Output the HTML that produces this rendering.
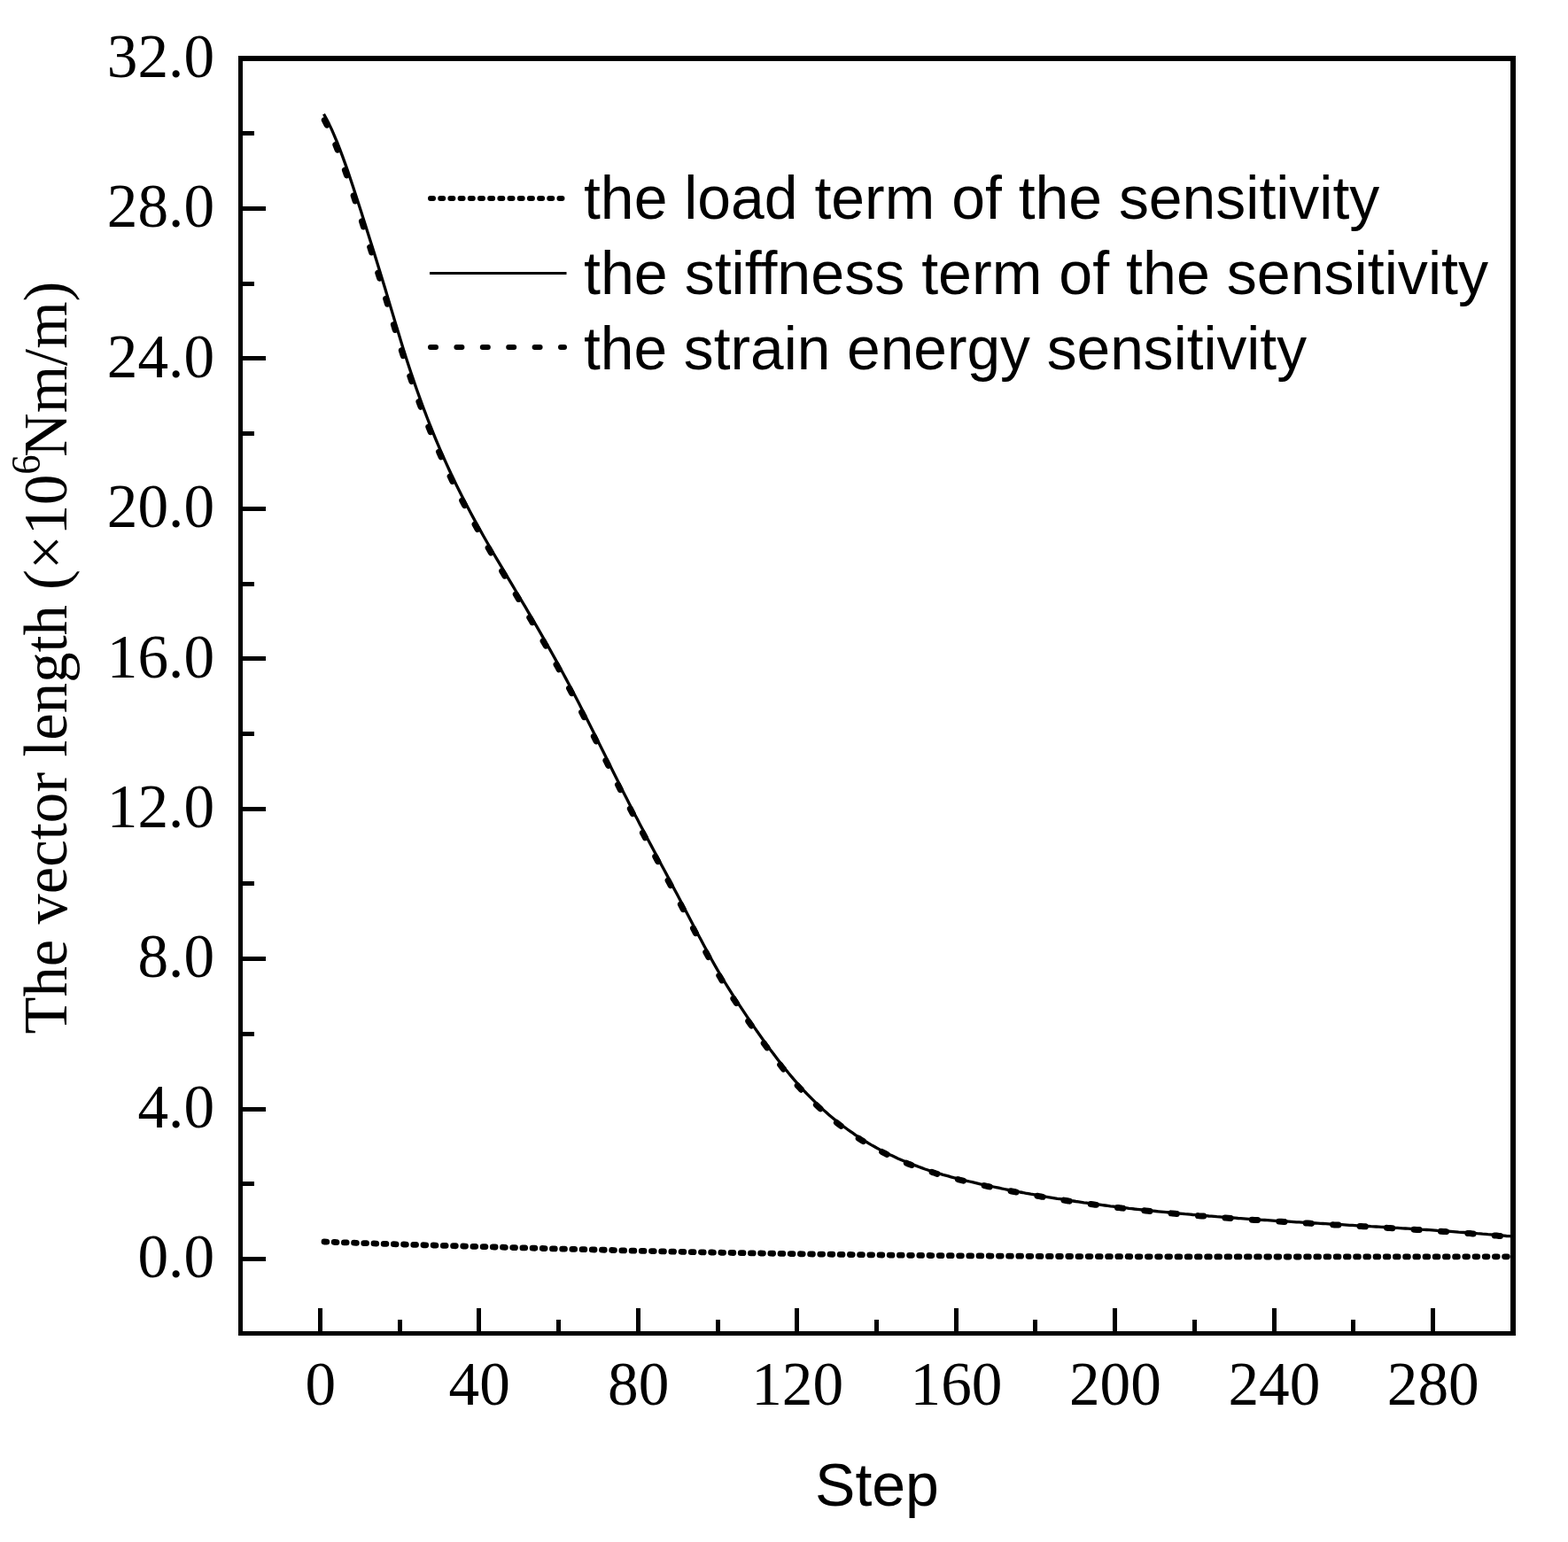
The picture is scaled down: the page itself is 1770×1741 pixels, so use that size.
<!DOCTYPE html>
<html lang="en"><head><meta charset="utf-8"><title>Vector length vs step</title>
<style>
html,body{margin:0;padding:0;background:#fff;}
body{width:1770px;height:1741px;overflow:hidden;}
svg{display:block;}
.ser{font-family:"Liberation Serif","DejaVu Serif",serif;font-size:68.7px;fill:#000;}
.san{font-family:"Liberation Sans","DejaVu Sans",sans-serif;font-size:68.0px;fill:#000;}
</style></head><body>
<svg width="1770" height="1741" viewBox="0 0 1770 1741" role="img" aria-label="Vector length versus optimisation step">
<rect x="0" y="0" width="1770" height="1741" fill="#fff"/>
<g fill="#000" shape-rendering="crispEdges">
<rect x="269.0" y="63.0" width="5.0" height="1445.0"/>
<rect x="1705.0" y="63.0" width="6.0" height="1445.0"/>
<rect x="269.0" y="63.0" width="1442.0" height="5.8"/>
<rect x="269.0" y="1503.0" width="1442.0" height="5.0"/>
<rect x="273.0" y="1419" width="27" height="5"/>
<rect x="273.0" y="1334" width="14" height="5"/>
<rect x="273.0" y="1250" width="27" height="5"/>
<rect x="273.0" y="1165" width="14" height="5"/>
<rect x="273.0" y="1080" width="27" height="5"/>
<rect x="273.0" y="995" width="14" height="5"/>
<rect x="273.0" y="911" width="27" height="5"/>
<rect x="273.0" y="826" width="14" height="5"/>
<rect x="273.0" y="741" width="27" height="5"/>
<rect x="273.0" y="657" width="14" height="5"/>
<rect x="273.0" y="572" width="27" height="5"/>
<rect x="273.0" y="487" width="14" height="5"/>
<rect x="273.0" y="402" width="27" height="5"/>
<rect x="273.0" y="318" width="14" height="5"/>
<rect x="273.0" y="233" width="27" height="5"/>
<rect x="273.0" y="148" width="14" height="5"/>
<rect x="359" y="1477.0" width="5" height="27"/>
<rect x="449" y="1490.0" width="5" height="14"/>
<rect x="538" y="1477.0" width="5" height="27"/>
<rect x="628" y="1490.0" width="5" height="14"/>
<rect x="718" y="1477.0" width="5" height="27"/>
<rect x="808" y="1490.0" width="5" height="14"/>
<rect x="897" y="1477.0" width="5" height="27"/>
<rect x="987" y="1490.0" width="5" height="14"/>
<rect x="1077" y="1477.0" width="5" height="27"/>
<rect x="1166" y="1490.0" width="5" height="14"/>
<rect x="1256" y="1477.0" width="5" height="27"/>
<rect x="1346" y="1490.0" width="5" height="14"/>
<rect x="1436" y="1477.0" width="5" height="27"/>
<rect x="1525" y="1490.0" width="5" height="14"/>
<rect x="1615" y="1477.0" width="5" height="27"/>
</g>
<g class="ser" text-anchor="end">
<text transform="translate(242,1442.2) scale(1.008,1.03)">0.0</text>
<text transform="translate(242,1272.8) scale(1.008,1.03)">4.0</text>
<text transform="translate(242,1103.3) scale(1.008,1.03)">8.0</text>
<text transform="translate(242,933.9) scale(1.008,1.03)">12.0</text>
<text transform="translate(242,764.5) scale(1.008,1.03)">16.0</text>
<text transform="translate(242,595.1) scale(1.008,1.03)">20.0</text>
<text transform="translate(242,425.6) scale(1.008,1.03)">24.0</text>
<text transform="translate(242,256.2) scale(1.008,1.03)">28.0</text>
<text transform="translate(242,86.8) scale(1.008,1.03)">32.0</text>
</g>
<g class="ser" text-anchor="middle">
<text transform="translate(361.8,1586) scale(1.008,1.03)">0</text>
<text transform="translate(541.2,1586) scale(1.008,1.03)">40</text>
<text transform="translate(720.7,1586) scale(1.008,1.03)">80</text>
<text transform="translate(900.1,1586) scale(1.008,1.03)">120</text>
<text transform="translate(1079.5,1586) scale(1.008,1.03)">160</text>
<text transform="translate(1258.9,1586) scale(1.008,1.03)">200</text>
<text transform="translate(1438.4,1586) scale(1.008,1.03)">240</text>
<text transform="translate(1617.8,1586) scale(1.008,1.03)">280</text>
</g>
<text class="san" text-anchor="middle" x="990" y="1700">Step</text>
<text class="ser" text-anchor="middle" transform="translate(75.3,742.5) rotate(-90) scale(1,1.03)">The vector length (×10<tspan dy="-29.8" font-size="44.5">6</tspan><tspan dy="29.8" dx="-2.5">Nm/m)</tspan></text>
<g fill="none" stroke="#000" stroke-linejoin="round">
<path d="M366.0,1402.0 L372.0,1402.2 L378.0,1402.5 L384.0,1402.7 L390.0,1402.9 L396.0,1403.1 L402.0,1403.3 L408.0,1403.5 L414.0,1403.7 L420.0,1403.9 L426.0,1404.1 L432.0,1404.3 L438.0,1404.5 L444.0,1404.7 L450.0,1404.9 L456.0,1405.0 L462.0,1405.2 L468.0,1405.4 L474.0,1405.6 L480.0,1405.8 L486.0,1405.9 L492.0,1406.1 L498.0,1406.3 L504.0,1406.5 L510.0,1406.6 L516.0,1406.8 L522.0,1407.0 L528.0,1407.1 L534.0,1407.3 L540.0,1407.5 L546.0,1407.6 L552.0,1407.8 L558.0,1408.0 L564.0,1408.1 L570.0,1408.3 L576.0,1408.5 L582.0,1408.6 L588.0,1408.8 L594.0,1409.0 L600.0,1409.1 L606.0,1409.3 L612.0,1409.5 L618.0,1409.6 L624.0,1409.8 L630.0,1409.9 L636.0,1410.1 L642.0,1410.3 L648.0,1410.4 L654.0,1410.6 L660.0,1410.7 L666.0,1410.9 L672.0,1411.0 L678.0,1411.2 L684.0,1411.3 L690.0,1411.5 L696.0,1411.6 L702.0,1411.8 L708.0,1411.9 L714.0,1412.1 L720.0,1412.2 L726.0,1412.4 L732.0,1412.5 L738.0,1412.6 L744.0,1412.8 L750.0,1412.9 L756.0,1413.0 L762.0,1413.2 L768.0,1413.3 L774.0,1413.4 L780.0,1413.6 L786.0,1413.7 L792.0,1413.8 L798.0,1413.9 L804.0,1414.0 L810.0,1414.2 L816.0,1414.3 L822.0,1414.4 L828.0,1414.5 L834.0,1414.6 L840.0,1414.7 L846.0,1414.8 L852.0,1414.9 L858.0,1415.0 L864.0,1415.1 L870.0,1415.2 L876.0,1415.3 L882.0,1415.4 L888.0,1415.5 L894.0,1415.6 L900.0,1415.7 L906.0,1415.8 L912.0,1415.9 L918.0,1416.0 L924.0,1416.1 L930.0,1416.1 L936.0,1416.2 L942.0,1416.3 L948.0,1416.4 L954.0,1416.5 L960.0,1416.5 L966.0,1416.6 L972.0,1416.7 L978.0,1416.8 L984.0,1416.8 L990.0,1416.9 L996.0,1417.0 L1002.0,1417.0 L1008.0,1417.1 L1014.0,1417.2 L1020.0,1417.2 L1026.0,1417.3 L1032.0,1417.3 L1038.0,1417.4 L1044.0,1417.4 L1050.0,1417.5 L1056.0,1417.6 L1062.0,1417.6 L1068.0,1417.7 L1074.0,1417.7 L1080.0,1417.8 L1086.0,1417.8 L1092.0,1417.8 L1098.0,1417.9 L1104.0,1417.9 L1110.0,1418.0 L1116.0,1418.0 L1122.0,1418.1 L1128.0,1418.1 L1134.0,1418.1 L1140.0,1418.2 L1146.0,1418.2 L1152.0,1418.2 L1158.0,1418.3 L1164.0,1418.3 L1170.0,1418.3 L1176.0,1418.4 L1182.0,1418.4 L1188.0,1418.4 L1194.0,1418.5 L1200.0,1418.5 L1206.0,1418.5 L1212.0,1418.5 L1218.0,1418.6 L1224.0,1418.6 L1230.0,1418.6 L1236.0,1418.6 L1242.0,1418.7 L1248.0,1418.7 L1254.0,1418.7 L1260.0,1418.7 L1266.0,1418.7 L1272.0,1418.7 L1278.0,1418.8 L1284.0,1418.8 L1290.0,1418.8 L1296.0,1418.8 L1302.0,1418.8 L1308.0,1418.8 L1314.0,1418.8 L1320.0,1418.8 L1326.0,1418.9 L1332.0,1418.9 L1338.0,1418.9 L1344.0,1418.9 L1350.0,1418.9 L1356.0,1418.9 L1362.0,1418.9 L1368.0,1418.9 L1374.0,1418.9 L1380.0,1418.9 L1386.0,1418.9 L1392.0,1418.9 L1398.0,1418.9 L1404.0,1418.9 L1410.0,1418.9 L1416.0,1418.9 L1422.0,1418.9 L1428.0,1419.0 L1434.0,1419.0 L1440.0,1419.0 L1446.0,1419.0 L1452.0,1419.0 L1458.0,1419.0 L1464.0,1419.0 L1470.0,1419.0 L1476.0,1418.9 L1482.0,1418.9 L1488.0,1418.9 L1494.0,1418.9 L1500.0,1418.9 L1506.0,1418.9 L1512.0,1418.9 L1518.0,1418.9 L1524.0,1418.9 L1530.0,1418.9 L1536.0,1418.9 L1542.0,1418.9 L1548.0,1418.9 L1554.0,1418.9 L1560.0,1418.9 L1566.0,1418.9 L1572.0,1418.9 L1578.0,1418.9 L1584.0,1418.9 L1590.0,1418.9 L1596.0,1418.9 L1602.0,1418.9 L1608.0,1418.9 L1614.0,1418.9 L1620.0,1418.9 L1626.0,1418.9 L1632.0,1418.9 L1638.0,1418.9 L1644.0,1418.9 L1650.0,1418.8 L1656.0,1418.8 L1662.0,1418.8 L1668.0,1418.8 L1674.0,1418.8 L1680.0,1418.8 L1686.0,1418.8 L1692.0,1418.8 L1698.0,1418.8 L1704.0,1418.8 L1705.0,1418.8" stroke-width="6.8" stroke-linecap="round" stroke-dasharray="2.8 8.4"/>
<path d="M366.3,135.6 L369.3,141.5 L372.3,148.0 L375.3,154.8 L378.3,162.1 L381.3,169.7 L384.3,177.7 L387.3,186.0 L390.3,194.5 L393.3,203.3 L396.3,212.3 L399.3,221.4 L402.3,230.7 L405.3,240.0 L408.3,249.4 L411.3,258.8 L414.3,268.3 L417.3,277.8 L420.3,287.4 L423.3,297.0 L426.3,306.7 L429.3,316.4 L432.3,326.3 L435.3,336.2 L438.3,346.2 L441.3,356.2 L444.3,366.2 L447.3,376.1 L450.3,385.9 L453.3,395.6 L456.3,405.0 L459.3,414.3 L462.3,423.3 L465.3,432.1 L468.3,440.7 L471.3,449.1 L474.3,457.3 L477.3,465.3 L480.3,473.1 L483.3,480.7 L486.3,488.2 L489.3,495.5 L492.3,502.6 L495.3,509.6 L498.3,516.4 L501.3,523.1 L504.3,529.7 L507.3,536.1 L510.3,542.4 L513.3,548.5 L516.3,554.6 L519.3,560.5 L522.3,566.4 L525.3,572.1 L528.3,577.8 L531.3,583.4 L534.3,588.9 L537.3,594.3 L540.3,599.7 L543.3,605.0 L546.3,610.2 L549.3,615.4 L552.3,620.6 L555.3,625.7 L558.3,630.8 L561.3,635.8 L564.3,640.9 L567.3,645.9 L570.3,650.9 L573.3,656.0 L576.3,661.0 L579.3,666.0 L582.3,671.1 L585.3,676.1 L588.3,681.2 L591.3,686.3 L594.3,691.4 L597.3,696.5 L600.3,701.6 L603.3,706.7 L606.3,711.9 L609.3,717.1 L612.3,722.3 L615.3,727.6 L618.3,732.9 L621.3,738.2 L624.3,743.5 L627.3,748.9 L630.3,754.4 L633.3,759.9 L636.3,765.4 L639.3,771.0 L642.3,776.6 L645.3,782.3 L648.3,788.0 L651.3,793.8 L654.3,799.6 L657.3,805.5 L660.3,811.4 L663.3,817.4 L666.3,823.3 L669.3,829.3 L672.3,835.4 L675.3,841.4 L678.3,847.4 L681.3,853.5 L684.3,859.5 L687.3,865.6 L690.3,871.6 L693.3,877.6 L696.3,883.6 L699.3,889.6 L702.3,895.5 L705.3,901.4 L708.3,907.3 L711.3,913.1 L714.3,918.9 L717.3,924.7 L720.3,930.4 L723.3,936.2 L726.3,941.9 L729.3,947.5 L732.3,953.2 L735.3,958.8 L738.3,964.5 L741.3,970.1 L744.3,975.7 L747.3,981.3 L750.3,987.0 L753.3,992.6 L756.3,998.2 L759.3,1003.9 L762.3,1009.6 L765.3,1015.2 L768.3,1020.9 L771.3,1026.7 L774.3,1032.4 L777.3,1038.2 L780.3,1043.9 L783.3,1049.6 L786.3,1055.4 L789.3,1061.0 L792.3,1066.7 L795.3,1072.3 L798.3,1077.8 L801.3,1083.2 L804.3,1088.6 L807.3,1093.9 L810.3,1099.0 L813.3,1104.1 L816.3,1109.1 L819.3,1113.9 L822.3,1118.7 L825.3,1123.5 L828.3,1128.1 L831.3,1132.7 L834.3,1137.3 L837.3,1141.8 L840.3,1146.3 L843.3,1150.8 L846.3,1155.2 L849.3,1159.5 L852.3,1163.9 L855.3,1168.1 L858.3,1172.4 L861.3,1176.6 L864.3,1180.7 L867.3,1184.8 L870.3,1188.8 L873.3,1192.8 L876.3,1196.7 L879.3,1200.5 L882.3,1204.3 L885.3,1208.1 L888.3,1211.7 L891.3,1215.3 L894.3,1218.9 L897.3,1222.3 L900.3,1225.7 L903.3,1229.0 L906.3,1232.3 L909.3,1235.4 L912.3,1238.5 L915.3,1241.6 L918.3,1244.5 L921.3,1247.4 L924.3,1250.2 L927.3,1253.0 L930.3,1255.7 L933.3,1258.3 L936.3,1260.9 L939.3,1263.4 L942.3,1265.8 L945.3,1268.2 L948.3,1270.5 L951.3,1272.8 L954.3,1275.0 L957.3,1277.2 L960.3,1279.3 L963.3,1281.3 L966.3,1283.3 L969.3,1285.3 L972.3,1287.2 L975.3,1289.1 L978.3,1290.9 L981.3,1292.7 L984.3,1294.4 L987.3,1296.1 L990.3,1297.7 L993.3,1299.3 L996.3,1300.9 L999.3,1302.4 L1002.3,1303.9 L1005.3,1305.3 L1008.3,1306.7 L1011.3,1308.1 L1014.3,1309.4 L1017.3,1310.7 L1020.3,1312.0 L1023.3,1313.2 L1026.3,1314.4 L1029.3,1315.5 L1032.3,1316.7 L1035.3,1317.8 L1038.3,1318.9 L1041.3,1319.9 L1044.3,1320.9 L1047.3,1321.9 L1050.3,1322.9 L1053.3,1323.8 L1056.3,1324.8 L1059.3,1325.7 L1062.3,1326.5 L1065.3,1327.4 L1068.3,1328.2 L1071.3,1329.1 L1074.3,1329.9 L1077.3,1330.6 L1080.3,1331.4 L1083.3,1332.2 L1086.3,1332.9 L1089.3,1333.6 L1092.3,1334.3 L1095.3,1335.1 L1098.3,1335.7 L1101.3,1336.4 L1104.3,1337.1 L1107.3,1337.8 L1110.3,1338.4 L1113.3,1339.1 L1116.3,1339.7 L1119.3,1340.3 L1122.3,1341.0 L1125.3,1341.6 L1128.3,1342.2 L1131.3,1342.8 L1134.3,1343.4 L1137.3,1344.0 L1140.3,1344.6 L1143.3,1345.2 L1146.3,1345.8 L1149.3,1346.3 L1152.3,1346.9 L1155.3,1347.4 L1158.3,1348.0 L1161.3,1348.5 L1164.3,1349.1 L1167.3,1349.6 L1170.3,1350.1 L1173.3,1350.6 L1176.3,1351.2 L1179.3,1351.7 L1182.3,1352.2 L1185.3,1352.7 L1188.3,1353.1 L1191.3,1353.6 L1194.3,1354.1 L1197.3,1354.6 L1200.3,1355.0 L1203.3,1355.5 L1206.3,1356.0 L1209.3,1356.4 L1212.3,1356.9 L1215.3,1357.3 L1218.3,1357.7 L1221.3,1358.2 L1224.3,1358.6 L1227.3,1359.0 L1230.3,1359.4 L1233.3,1359.8 L1236.3,1360.2 L1239.3,1360.6 L1242.3,1361.0 L1245.3,1361.4 L1248.3,1361.8 L1251.3,1362.2 L1254.3,1362.5 L1257.3,1362.9 L1260.3,1363.3 L1263.3,1363.6 L1266.3,1364.0 L1269.3,1364.3 L1272.3,1364.7 L1275.3,1365.0 L1278.3,1365.4 L1281.3,1365.7 L1284.3,1366.0 L1287.3,1366.4 L1290.3,1366.7 L1293.3,1367.0 L1296.3,1367.3 L1299.3,1367.6 L1302.3,1368.0 L1305.3,1368.3 L1308.3,1368.6 L1311.3,1368.9 L1314.3,1369.1 L1317.3,1369.4 L1320.3,1369.7 L1323.3,1370.0 L1326.3,1370.3 L1329.3,1370.6 L1332.3,1370.8 L1335.3,1371.1 L1338.3,1371.4 L1341.3,1371.6 L1344.3,1371.9 L1347.3,1372.1 L1350.3,1372.4 L1353.3,1372.7 L1356.3,1372.9 L1359.3,1373.1 L1362.3,1373.4 L1365.3,1373.6 L1368.3,1373.9 L1371.3,1374.1 L1374.3,1374.3 L1377.3,1374.6 L1380.3,1374.8 L1383.3,1375.0 L1386.3,1375.2 L1389.3,1375.5 L1392.3,1375.7 L1395.3,1375.9 L1398.3,1376.1 L1401.3,1376.3 L1404.3,1376.5 L1407.3,1376.7 L1410.3,1376.9 L1413.3,1377.2 L1416.3,1377.4 L1419.3,1377.6 L1422.3,1377.8 L1425.3,1378.0 L1428.3,1378.1 L1431.3,1378.3 L1434.3,1378.5 L1437.3,1378.7 L1440.3,1378.9 L1443.3,1379.1 L1446.3,1379.3 L1449.3,1379.5 L1452.3,1379.7 L1455.3,1379.8 L1458.3,1380.0 L1461.3,1380.2 L1464.3,1380.4 L1467.3,1380.6 L1470.3,1380.8 L1473.3,1380.9 L1476.3,1381.1 L1479.3,1381.3 L1482.3,1381.5 L1485.3,1381.6 L1488.3,1381.8 L1491.3,1382.0 L1494.3,1382.2 L1497.3,1382.3 L1500.3,1382.5 L1503.3,1382.7 L1506.3,1382.9 L1509.3,1383.0 L1512.3,1383.2 L1515.3,1383.4 L1518.3,1383.5 L1521.3,1383.7 L1524.3,1383.9 L1527.3,1384.1 L1530.3,1384.2 L1533.3,1384.4 L1536.3,1384.6 L1539.3,1384.8 L1542.3,1384.9 L1545.3,1385.1 L1548.3,1385.3 L1551.3,1385.5 L1554.3,1385.6 L1557.3,1385.8 L1560.3,1386.0 L1563.3,1386.2 L1566.3,1386.4 L1569.3,1386.5 L1572.3,1386.7 L1575.3,1386.9 L1578.3,1387.1 L1581.3,1387.3 L1584.3,1387.5 L1587.3,1387.6 L1590.3,1387.8 L1593.3,1388.0 L1596.3,1388.2 L1599.3,1388.4 L1602.3,1388.6 L1605.3,1388.8 L1608.3,1389.0 L1611.3,1389.2 L1614.3,1389.4 L1617.3,1389.6 L1620.3,1389.8 L1623.3,1390.0 L1626.3,1390.2 L1629.3,1390.4 L1632.3,1390.6 L1635.3,1390.8 L1638.3,1391.1 L1641.3,1391.3 L1644.3,1391.5 L1647.3,1391.7 L1650.3,1391.9 L1653.3,1392.2 L1656.3,1392.4 L1659.3,1392.6 L1662.3,1392.9 L1665.3,1393.1 L1668.3,1393.3 L1671.3,1393.6 L1674.3,1393.8 L1677.3,1394.1 L1680.3,1394.3 L1683.3,1394.6 L1686.3,1394.8 L1689.3,1395.1 L1692.3,1395.4 L1695.3,1395.6 L1698.3,1395.9 L1701.3,1396.2 L1704.3,1396.5 L1705.0,1396.5" stroke-width="7" stroke-linecap="round" stroke-dasharray="6.2 24.3"/>
<path d="M365.5,128.8 L368.5,134.2 L371.5,140.1 L374.5,146.4 L377.5,153.3 L380.5,160.5 L383.5,168.1 L386.5,176.1 L389.5,184.4 L392.5,192.9 L395.5,201.7 L398.5,210.7 L401.5,219.9 L404.5,229.2 L407.5,238.5 L410.5,248.0 L413.5,257.4 L416.5,266.9 L419.5,276.5 L422.5,286.1 L425.5,295.7 L428.5,305.4 L431.5,315.2 L434.5,325.1 L437.5,335.1 L440.5,345.1 L443.5,355.1 L446.5,365.2 L449.5,375.1 L452.5,385.0 L455.5,394.7 L458.5,404.2 L461.5,413.5 L464.5,422.5 L467.5,431.4 L470.5,440.0 L473.5,448.4 L476.5,456.7 L479.5,464.7 L482.5,472.5 L485.5,480.2 L488.5,487.7 L491.5,495.0 L494.5,502.2 L497.5,509.2 L500.5,516.0 L503.5,522.7 L506.5,529.3 L509.5,535.7 L512.5,542.0 L515.5,548.2 L518.5,554.3 L521.5,560.2 L524.5,566.1 L527.5,571.8 L530.5,577.5 L533.5,583.1 L536.5,588.6 L539.5,594.1 L542.5,599.4 L545.5,604.7 L548.5,610.0 L551.5,615.2 L554.5,620.4 L557.5,625.5 L560.5,630.6 L563.5,635.7 L566.5,640.7 L569.5,645.8 L572.5,650.8 L575.5,655.9 L578.5,660.9 L581.5,666.0 L584.5,671.0 L587.5,676.1 L590.5,681.1 L593.5,686.2 L596.5,691.3 L599.5,696.4 L602.5,701.6 L605.5,706.7 L608.5,711.9 L611.5,717.1 L614.5,722.4 L617.5,727.6 L620.5,732.9 L623.5,738.3 L626.5,743.6 L629.5,749.1 L632.5,754.5 L635.5,760.0 L638.5,765.6 L641.5,771.2 L644.5,776.8 L647.5,782.5 L650.5,788.2 L653.5,794.0 L656.5,799.9 L659.5,805.8 L662.5,811.7 L665.5,817.7 L668.5,823.7 L671.5,829.7 L674.5,835.7 L677.5,841.7 L680.5,847.8 L683.5,853.8 L686.5,859.9 L689.5,865.9 L692.5,872.0 L695.5,878.0 L698.5,884.0 L701.5,890.0 L704.5,895.9 L707.5,901.8 L710.5,907.7 L713.5,913.6 L716.5,919.4 L719.5,925.1 L722.5,930.9 L725.5,936.6 L728.5,942.3 L731.5,948.0 L734.5,953.6 L737.5,959.3 L740.5,964.9 L743.5,970.6 L746.5,976.2 L749.5,981.8 L752.5,987.4 L755.5,993.1 L758.5,998.7 L761.5,1004.4 L764.5,1010.1 L767.5,1015.8 L770.5,1021.5 L773.5,1027.2 L776.5,1033.0 L779.5,1038.7 L782.5,1044.5 L785.5,1050.2 L788.5,1055.9 L791.5,1061.6 L794.5,1067.2 L797.5,1072.8 L800.5,1078.3 L803.5,1083.8 L806.5,1089.1 L809.5,1094.4 L812.5,1099.5 L815.5,1104.6 L818.5,1109.5 L821.5,1114.4 L824.5,1119.2 L827.5,1123.9 L830.5,1128.5 L833.5,1133.1 L836.5,1137.7 L839.5,1142.2 L842.5,1146.7 L845.5,1151.2 L848.5,1155.6 L851.5,1159.9 L854.5,1164.2 L857.5,1168.5 L860.5,1172.7 L863.5,1176.9 L866.5,1181.0 L869.5,1185.1 L872.5,1189.1 L875.5,1193.1 L878.5,1197.0 L881.5,1200.8 L884.5,1204.6 L887.5,1208.3 L890.5,1212.0 L893.5,1215.6 L896.5,1219.1 L899.5,1222.5 L902.5,1225.9 L905.5,1229.2 L908.5,1232.5 L911.5,1235.6 L914.5,1238.7 L917.5,1241.7 L920.5,1244.7 L923.5,1247.5 L926.5,1250.3 L929.5,1253.1 L932.5,1255.8 L935.5,1258.4 L938.5,1260.9 L941.5,1263.4 L944.5,1265.8 L947.5,1268.2 L950.5,1270.5 L953.5,1272.8 L956.5,1275.0 L959.5,1277.1 L962.5,1279.2 L965.5,1281.3 L968.5,1283.3 L971.5,1285.2 L974.5,1287.1 L977.5,1289.0 L980.5,1290.8 L983.5,1292.6 L986.5,1294.3 L989.5,1296.0 L992.5,1297.6 L995.5,1299.2 L998.5,1300.7 L1001.5,1302.2 L1004.5,1303.7 L1007.5,1305.1 L1010.5,1306.5 L1013.5,1307.9 L1016.5,1309.2 L1019.5,1310.5 L1022.5,1311.8 L1025.5,1313.0 L1028.5,1314.2 L1031.5,1315.3 L1034.5,1316.4 L1037.5,1317.5 L1040.5,1318.6 L1043.5,1319.7 L1046.5,1320.7 L1049.5,1321.7 L1052.5,1322.6 L1055.5,1323.6 L1058.5,1324.5 L1061.5,1325.4 L1064.5,1326.3 L1067.5,1327.1 L1070.5,1327.9 L1073.5,1328.8 L1076.5,1329.6 L1079.5,1330.3 L1082.5,1331.1 L1085.5,1331.9 L1088.5,1332.6 L1091.5,1333.3 L1094.5,1334.0 L1097.5,1334.7 L1100.5,1335.4 L1103.5,1336.1 L1106.5,1336.8 L1109.5,1337.4 L1112.5,1338.1 L1115.5,1338.7 L1118.5,1339.4 L1121.5,1340.0 L1124.5,1340.6 L1127.5,1341.2 L1130.5,1341.9 L1133.5,1342.5 L1136.5,1343.1 L1139.5,1343.7 L1142.5,1344.2 L1145.5,1344.8 L1148.5,1345.4 L1151.5,1346.0 L1154.5,1346.5 L1157.5,1347.1 L1160.5,1347.6 L1163.5,1348.2 L1166.5,1348.7 L1169.5,1349.2 L1172.5,1349.8 L1175.5,1350.3 L1178.5,1350.8 L1181.5,1351.3 L1184.5,1351.8 L1187.5,1352.3 L1190.5,1352.8 L1193.5,1353.3 L1196.5,1353.7 L1199.5,1354.2 L1202.5,1354.7 L1205.5,1355.1 L1208.5,1355.6 L1211.5,1356.0 L1214.5,1356.5 L1217.5,1356.9 L1220.5,1357.3 L1223.5,1357.8 L1226.5,1358.2 L1229.5,1358.6 L1232.5,1359.0 L1235.5,1359.4 L1238.5,1359.8 L1241.5,1360.2 L1244.5,1360.6 L1247.5,1361.0 L1250.5,1361.4 L1253.5,1361.8 L1256.5,1362.1 L1259.5,1362.5 L1262.5,1362.9 L1265.5,1363.2 L1268.5,1363.6 L1271.5,1363.9 L1274.5,1364.3 L1277.5,1364.6 L1280.5,1365.0 L1283.5,1365.3 L1286.5,1365.6 L1289.5,1366.0 L1292.5,1366.3 L1295.5,1366.6 L1298.5,1366.9 L1301.5,1367.2 L1304.5,1367.5 L1307.5,1367.8 L1310.5,1368.1 L1313.5,1368.4 L1316.5,1368.7 L1319.5,1369.0 L1322.5,1369.3 L1325.5,1369.6 L1328.5,1369.9 L1331.5,1370.1 L1334.5,1370.4 L1337.5,1370.7 L1340.5,1370.9 L1343.5,1371.2 L1346.5,1371.5 L1349.5,1371.7 L1352.5,1372.0 L1355.5,1372.2 L1358.5,1372.5 L1361.5,1372.7 L1364.5,1373.0 L1367.5,1373.2 L1370.5,1373.4 L1373.5,1373.7 L1376.5,1373.9 L1379.5,1374.1 L1382.5,1374.4 L1385.5,1374.6 L1388.5,1374.8 L1391.5,1375.0 L1394.5,1375.2 L1397.5,1375.5 L1400.5,1375.7 L1403.5,1375.9 L1406.5,1376.1 L1409.5,1376.3 L1412.5,1376.5 L1415.5,1376.7 L1418.5,1376.9 L1421.5,1377.1 L1424.5,1377.3 L1427.5,1377.5 L1430.5,1377.7 L1433.5,1377.9 L1436.5,1378.1 L1439.5,1378.3 L1442.5,1378.5 L1445.5,1378.7 L1448.5,1378.8 L1451.5,1379.0 L1454.5,1379.2 L1457.5,1379.4 L1460.5,1379.6 L1463.5,1379.8 L1466.5,1379.9 L1469.5,1380.1 L1472.5,1380.3 L1475.5,1380.5 L1478.5,1380.7 L1481.5,1380.8 L1484.5,1381.0 L1487.5,1381.2 L1490.5,1381.4 L1493.5,1381.5 L1496.5,1381.7 L1499.5,1381.9 L1502.5,1382.1 L1505.5,1382.2 L1508.5,1382.4 L1511.5,1382.6 L1514.5,1382.7 L1517.5,1382.9 L1520.5,1383.1 L1523.5,1383.3 L1526.5,1383.4 L1529.5,1383.6 L1532.5,1383.8 L1535.5,1384.0 L1538.5,1384.1 L1541.5,1384.3 L1544.5,1384.5 L1547.5,1384.7 L1550.5,1384.8 L1553.5,1385.0 L1556.5,1385.2 L1559.5,1385.4 L1562.5,1385.5 L1565.5,1385.7 L1568.5,1385.9 L1571.5,1386.1 L1574.5,1386.3 L1577.5,1386.4 L1580.5,1386.6 L1583.5,1386.8 L1586.5,1387.0 L1589.5,1387.2 L1592.5,1387.4 L1595.5,1387.6 L1598.5,1387.8 L1601.5,1388.0 L1604.5,1388.2 L1607.5,1388.3 L1610.5,1388.5 L1613.5,1388.7 L1616.5,1388.9 L1619.5,1389.1 L1622.5,1389.4 L1625.5,1389.6 L1628.5,1389.8 L1631.5,1390.0 L1634.5,1390.2 L1637.5,1390.4 L1640.5,1390.6 L1643.5,1390.8 L1646.5,1391.1 L1649.5,1391.3 L1652.5,1391.5 L1655.5,1391.7 L1658.5,1392.0 L1661.5,1392.2 L1664.5,1392.4 L1667.5,1392.7 L1670.5,1392.9 L1673.5,1393.2 L1676.5,1393.4 L1679.5,1393.7 L1682.5,1393.9 L1685.5,1394.2 L1688.5,1394.4 L1691.5,1394.7 L1694.5,1394.9 L1697.5,1395.2 L1700.5,1395.5 L1703.5,1395.7 L1705.0,1395.9" stroke-width="3.3"/>
<path d="M486,224 L635,224" stroke-width="6" stroke-linecap="round" stroke-dasharray="3 8.19"/>
<path d="M485,308.5 L639.5,308.5" stroke-width="3"/>
<path d="M486,392 L637,392" stroke-width="6" stroke-linecap="round" stroke-dasharray="6 23.4"/>
</g>
<g class="san">
<text x="659" y="246.8" textLength="898.2" lengthAdjust="spacingAndGlyphs">the load term of the sensitivity</text>
<text x="659" y="331.8" textLength="1021.0" lengthAdjust="spacingAndGlyphs">the stiffness term of the sensitivity</text>
<text x="659" y="416.6" textLength="816.0" lengthAdjust="spacingAndGlyphs">the strain energy sensitivity</text>
</g>
</svg></body></html>
